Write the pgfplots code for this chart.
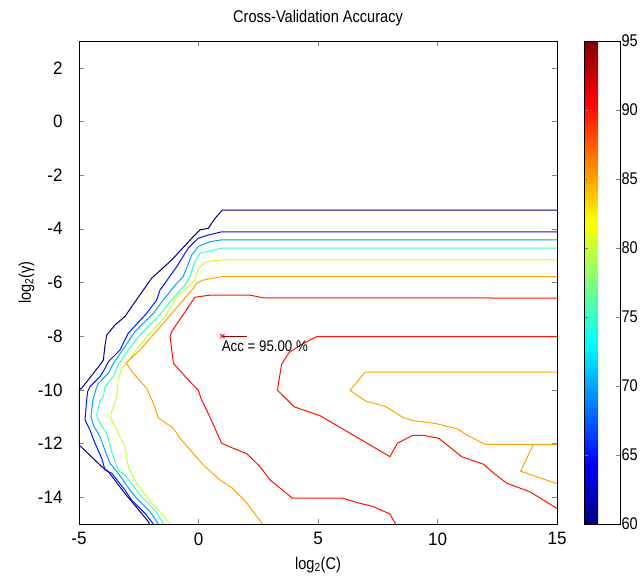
\documentclass[border=0pt]{standalone}
\usepackage{fontspec}
\setmainfont{Liberation Sans}[FakeStretch=0.86]
\newfontfamily\tickfont{Liberation Sans}[FakeStretch=0.95]
\usepackage{pgfplots}
\pgfplotsset{compat=1.18}
\definecolor{c60}{RGB}{0,0,128}
\definecolor{c65}{RGB}{0,18,255}
\definecolor{c70}{RGB}{0,164,255}
\definecolor{c75}{RGB}{55,255,200}
\definecolor{c80}{RGB}{200,255,55}
\definecolor{c85}{RGB}{255,164,0}
\definecolor{c90}{RGB}{255,18,0}
\definecolor{c95}{RGB}{150,0,0}
\begin{document}
\begin{tikzpicture}
\useasboundingbox (-79bp,-55bp) rectangle (563bp,524bp);
\begin{axis}[
  at={(0,0)}, anchor=south west,
  scale only axis, width=478bp, height=483bp,
  xmin=-5, xmax=15, ymin=-15, ymax=3,
  xtick={-5,0,5,10,15}, ytick={-14,-12,...,2},
  tick align=inside, tick pos=both, major tick length=5bp,
  /pgf/number format/assume math mode=true,
  ticklabel style={font=\tickfont\fontsize{18}{21}\selectfont},
  yticklabel style={xshift=-13bp},
  xticklabel style={yshift=-5bp},
  axis line style={line width=0.8bp},
  every axis title shift=0pt,
  title={Cross-Validation Accuracy},
  title style={at={(0.5,1.0476)}, anchor=center, yshift=0pt, font=\fontsize{17}{20}\selectfont},
  xlabel={log\textsubscript{2}(C)},
  xlabel style={at={(0.5,-0.0849)}, anchor=center, font=\fontsize{17}{20}\selectfont},
  ylabel={log\textsubscript{2}(γ)},
  ylabel style={at={(-0.110,0.5)}, anchor=center, font=\fontsize{17}{20}\selectfont},
  colormap/jet, colorbar, point meta min=60, point meta max=95,
  colorbar style={at={(parent axis.south east)}, anchor=south west, xshift=18.5bp,
    scale only axis, width=36bp, height=483bp,
    ytick={60,65,...,95}, yticklabel pos=right, ytick pos=both, tick align=inside,
    major tick length=4bp,
    /pgf/number format/assume math mode=true,
    ticklabel style={font=\fontsize{17}{20}\selectfont},
    yticklabel style={xshift=-2bp},
    axis line style={line width=0.8bp}},
  every axis plot/.append style={line width=1bp},
]
% level 60
\addplot[c60] coordinates {(15,-3.30) (1.00,-3.30) (0.69,-3.61) (0.41,-3.98) (0.06,-4.04) (-0.22,-4.29) (-1.12,-5.16) (-1.96,-5.84) (-2.60,-6.65) (-3.08,-7.27) (-3.49,-7.58) (-3.84,-7.96) (-3.91,-8.33) (-3.98,-8.89) (-4.12,-9.07) (-4.89,-9.94) (-5,-10.0) (-5,-12.05) (-4.05,-12.86) (-3.77,-13.05) (-3.08,-13.86) (-2.73,-14.23) (-2.10,-14.91) (-2.05,-15)};
% level 65
\addplot[c65] coordinates {(15,-4.11) (0.97,-4.11) (0.41,-4.23) (-0.01,-4.35) (-0.43,-4.72) (-0.91,-5.41) (-1.61,-6.28) (-1.75,-6.65) (-2.17,-7.15) (-2.94,-7.89) (-3.15,-8.27) (-3.28,-8.51) (-3.77,-8.95) (-3.91,-9.20) (-4.12,-9.51) (-4.54,-9.88) (-4.64,-10.07) (-4.68,-10.40) (-4.75,-11.12) (-4.54,-11.50) (-4.33,-11.99) (-4.05,-12.55) (-3.91,-12.99) (-3.63,-13.11) (-3.08,-13.73) (-2.80,-14.11) (-2.24,-14.60) (-1.89,-15)};
% level 70
\addplot[c70] coordinates {(15,-4.41) (0.97,-4.41) (0.48,-4.48) (-0.01,-4.66) (-0.28,-4.97) (-0.64,-5.78) (-0.91,-6.03) (-1.47,-6.65) (-1.89,-7.15) (-2.66,-7.83) (-3.08,-8.39) (-3.56,-9.01) (-3.77,-9.38) (-4.19,-9.76) (-4.30,-10.01) (-4.42,-10.40) (-4.50,-11.00) (-4.40,-11.31) (-4.12,-11.75) (-3.84,-12.43) (-3.70,-12.74) (-3.36,-13.11) (-2.87,-13.73) (-2.59,-14.04) (-2.03,-14.54) (-1.68,-15)};
% level 75
\addplot[c75] coordinates {(15,-4.72) (0.97,-4.72) (0.06,-4.91) (-0.15,-5.22) (-0.36,-5.78) (-0.56,-6.09) (-1.12,-6.65) (-1.68,-7.27) (-2.38,-7.89) (-2.94,-8.51) (-3.36,-9.07) (-3.56,-9.51) (-3.91,-9.88) (-3.98,-10.25) (-4.12,-10.40) (-4.26,-10.94) (-4.19,-11.12) (-3.84,-11.62) (-3.63,-12.31) (-3.36,-12.99) (-3.08,-13.17) (-2.66,-13.67) (-2.38,-13.98) (-1.82,-14.48) (-1.47,-15)};
% level 80
\addplot[c80] coordinates {(15,-5.16) (0.97,-5.16) (0.34,-5.22) (-0.01,-5.47) (-0.15,-5.91) (-0.49,-6.22) (-0.91,-6.53) (-1.40,-7.27) (-2.17,-8.02) (-2.66,-8.58) (-3.01,-9.01) (-3.22,-9.20) (-3.36,-9.63) (-3.42,-10.25) (-3.70,-11.00) (-3.42,-11.50) (-3.08,-12.12) (-2.94,-12.86) (-2.59,-13.48) (-1.96,-14.23) (-1.61,-14.54) (-1.19,-15)};
% level 85
\addplot[c85] coordinates {(15,-5.78) (0.97,-5.78) (0.20,-5.91) (-0.08,-6.03) (-0.22,-6.22) (-1.47,-7.52) (-2.45,-8.51) (-3.03,-9.00) (-2.73,-9.38) (-2.17,-9.94) (-1.89,-10.50) (-1.68,-11.05) (-1.05,-11.43) (-0.77,-11.81) (0.20,-12.80) (0.90,-13.36) (1.40,-13.65) (1.95,-14.14) (2.68,-15)};
\addplot[c85] coordinates {(15,-9.34) (6.97,-9.34) (6.34,-10.02) (7.00,-10.42) (7.85,-10.63) (8.55,-11.03) (8.99,-11.15) (9.90,-11.25) (10.87,-11.47) (11.22,-11.68) (11.99,-12.03) (15,-12.03)};
\addplot[c85] coordinates {(14.01,-12.03) (13.48,-13.03) (15,-13.50)};
% level 90
\addplot[c90] coordinates {(15,-6.58) (2.71,-6.57) (2.15,-6.47) (0.48,-6.47) (-0.15,-6.55) (-1.12,-7.83) (-1.19,-8.02) (-1.05,-9.01) (-0.43,-9.63) (-0.01,-10.01) (0.13,-10.38) (0.34,-10.75) (0.97,-11.99) (1.46,-12.18) (2.02,-12.38) (2.57,-12.86) (3.00,-13.36) (3.93,-14.04) (6.03,-14.04) (6.76,-14.23) (7.30,-14.35) (8.00,-14.62) (8.25,-15)};
\addplot[c90] coordinates {(15,-8.02) (4.94,-8.02) (4.39,-8.27) (3.80,-8.60) (3.48,-9.04) (3.30,-10.01) (4.00,-10.63) (5.10,-10.97) (6.40,-11.65) (8.01,-12.49) (8.32,-11.99) (8.95,-11.70) (9.45,-11.70) (10.06,-11.81) (10.45,-12.09) (11.01,-12.49) (11.92,-12.77) (12.40,-13.14) (12.90,-13.48) (13.87,-13.80) (14.36,-14.07) (15,-14.42)};
% level 95
\addplot[c95] coordinates {(1,-8) (2.02,-8)};
\addplot[only marks, mark=x, mark size=3bp, red, line width=0.8bp] coordinates {(1,-8)};
\node[anchor=north west, inner sep=0pt, font=\fontsize{15.5}{18}\selectfont] at (axis cs:0.97,-8.15) {Acc = 95.00 \%};
\end{axis}
\end{tikzpicture}
\end{document}
